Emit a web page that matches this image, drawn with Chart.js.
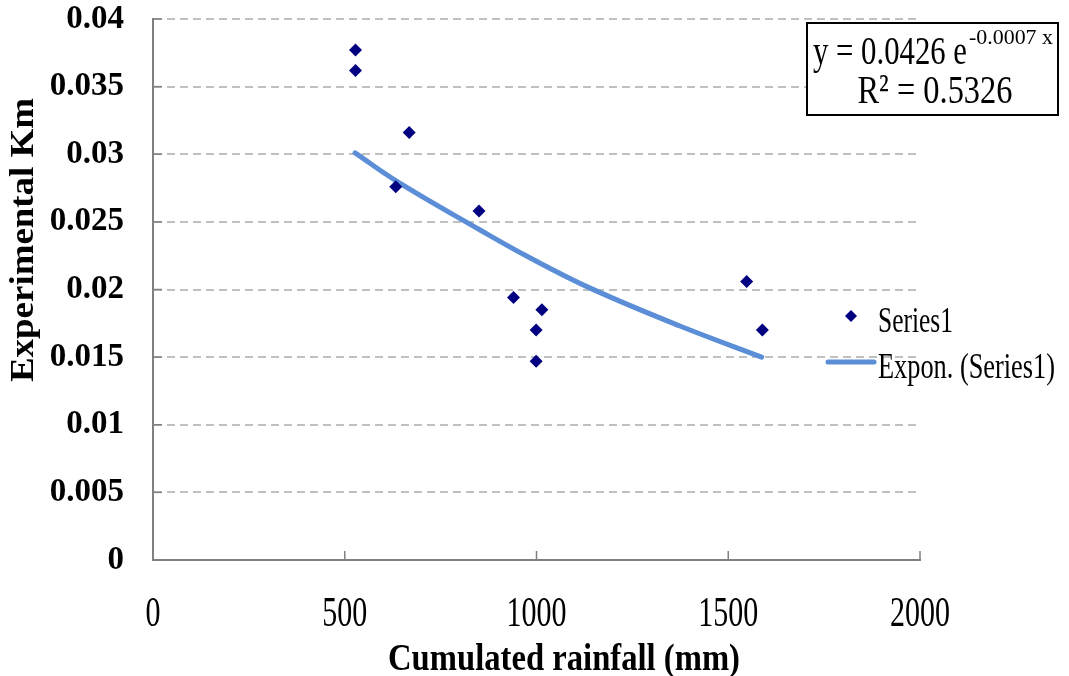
<!DOCTYPE html>
<html>
<head>
<meta charset="utf-8">
<script src="https://cdn.jsdelivr.net/npm/chart.js@4/dist/chart.umd.min.js"></script>
<style>
  body { margin: 0; background: #fff; }
  #wrap { width: 1069px; height: 676px; }
</style>
</head>
<body>
<div id="wrap"><canvas id="chart" width="1069" height="676"></canvas></div>
<script>
'use strict';

// measured points (cumulated rainfall in mm vs experimental Km)
const rainfall = [528, 528, 668, 633, 850, 940, 1014, 999, 999, 1548, 1589];
const kmValues = [0.0377, 0.0362, 0.0316, 0.0276, 0.0258, 0.0194, 0.0185, 0.0170, 0.0147, 0.0206, 0.0170];

// exponential trend line
const trendX = [527, 636, 853, 979, 1140, 1374, 1587];
const trendY = [0.0301, 0.0280, 0.0244, 0.0224, 0.0201, 0.0173, 0.0150];

const xTicks = [0, 500, 1000, 1500, 2000];
const yMax = 0.04;
const yStep = 0.005;

const seriesName = 'Series1';
const trendName = 'Expon. (Series1)';
const xTitle = 'Cumulated rainfall (mm)';
const yTitle = 'Experimental Km';
const eqMain = 'y = 0.0426 e';
const eqExp = '-0.0007 x';
const eqR2 = 'R\u00b2 = 0.5326';

const navy = '#000080';
const trendBlue = '#5b8ed6';
const axisGrey = '#808080';
const serif = '"Liberation Serif", "Times New Roman", serif';

function drawText(ctx, s, x, y, font, align, width) {
  ctx.save();
  ctx.font = font;
  ctx.textBaseline = 'alphabetic';
  ctx.textAlign = 'left';
  const natural = ctx.measureText(s).width;
  const k = width ? width / natural : 1;
  let left = x;
  if (align === 'center') left = x - natural * k / 2;
  if (align === 'right') left = x - natural * k;
  ctx.translate(left, y);
  ctx.scale(k, 1);
  ctx.fillStyle = '#000';
  ctx.fillText(s, 0, 0);
  ctx.restore();
}

const extras = {
  id: 'extras',
  afterDraw(chart) {
    const ctx = chart.ctx;
    const xs = chart.scales.x;
    const ys = chart.scales.y;
    const area = chart.chartArea;

    // inner tick marks
    ctx.save();
    ctx.strokeStyle = axisGrey;
    ctx.lineWidth = 1.5;
    ys.ticks.forEach(t => {
      const py = ys.getPixelForValue(t.value);
      ctx.beginPath();
      ctx.moveTo(area.left, py);
      ctx.lineTo(area.left + 9, py);
      ctx.stroke();
    });
    xTicks.forEach(v => {
      if (v === 0) return;
      const px = xs.getPixelForValue(v);
      ctx.beginPath();
      ctx.moveTo(px, area.bottom);
      ctx.lineTo(px, area.bottom - 9);
      ctx.stroke();
    });
    ctx.restore();

    // x tick labels (narrow face)
    xTicks.forEach(v => {
      const px = xs.getPixelForValue(v);
      const s = String(v);
      drawText(ctx, s, px, 626, '42px ' + serif, 'center', s.length * 15);
    });

    // axis titles
    drawText(ctx, xTitle, 564, 670, 'bold 37px ' + serif, 'center', 352);
    ctx.save();
    ctx.translate(33, 240);
    ctx.rotate(-Math.PI / 2);
    drawText(ctx, yTitle, 0, 0, 'bold 33px ' + serif, 'center', 284);
    ctx.restore();

    // legend
    ctx.save();
    ctx.fillStyle = navy;
    ctx.beginPath();
    ctx.moveTo(851, 310);
    ctx.lineTo(857, 316);
    ctx.lineTo(851, 322);
    ctx.lineTo(845, 316);
    ctx.closePath();
    ctx.fill();
    ctx.strokeStyle = trendBlue;
    ctx.lineWidth = 5;
    ctx.lineCap = 'round';
    ctx.beginPath();
    ctx.moveTo(828, 362);
    ctx.lineTo(874, 362);
    ctx.stroke();
    ctx.restore();
    drawText(ctx, seriesName, 878, 332, '35px ' + serif, 'left', 75);
    drawText(ctx, trendName, 878, 378, '35px ' + serif, 'left', 177);

    // equation box
    ctx.save();
    ctx.fillStyle = '#fff';
    ctx.fillRect(807, 23, 251, 92);
    ctx.strokeStyle = '#000';
    ctx.lineWidth = 2;
    ctx.strokeRect(807, 23, 251, 92);
    ctx.restore();
    drawText(ctx, eqMain, 813, 64, '41px ' + serif, 'left', 154);
    drawText(ctx, eqExp, 969, 44, '22px ' + serif, 'left', 84);
    drawText(ctx, eqR2, 935, 103, '41px ' + serif, 'center', 155);
  }
};

const ctx = document.getElementById('chart').getContext('2d');
new Chart(ctx, {
  type: 'scatter',
  data: {
    datasets: [
      {
        label: trendName,
        type: 'line',
        data: trendX.map((x, i) => ({ x: x, y: trendY[i] })),
        borderColor: trendBlue,
        borderWidth: 5,
        pointRadius: 0,
        fill: false,
        tension: 0.4,
        borderCapStyle: 'round',
        order: 2
      },
      {
        label: seriesName,
        data: rainfall.map((x, i) => ({ x: x, y: kmValues[i] })),
        pointStyle: 'rectRot',
        pointRadius: 6.5,
        backgroundColor: navy,
        borderColor: navy,
        borderWidth: 0,
        order: 1
      }
    ]
  },
  options: {
    responsive: false,
    animation: false,
    layout: { padding: { top: 19, right: 149, left: 0, bottom: 0 } },
    plugins: {
      legend: { display: false },
      tooltip: { enabled: false }
    },
    scales: {
      x: {
        type: 'linear',
        min: 0,
        max: 2000,
        ticks: { display: false, stepSize: 500 },
        grid: { display: false, drawTicks: false },
        border: { color: axisGrey, width: 2 },
        afterFit(scale) { scale.height = 116; }
      },
      y: {
        min: 0,
        max: yMax,
        ticks: {
          stepSize: yStep,
          padding: 29,
          color: '#000',
          font: { family: serif, size: 33, weight: 'bold' },
          callback: v => String(+v.toFixed(3))
        },
        grid: {
          color: '#c0c0c0',
          lineWidth: 2,
          drawTicks: false
        },
        border: { color: axisGrey, width: 2, dash: [8, 5] },
        afterFit(scale) {
          scale.width = 153;
          scale.paddingTop = 0;
          scale.paddingBottom = 0;
        }
      }
    }
  },
  plugins: [extras]
});
</script>
</body>
</html>
